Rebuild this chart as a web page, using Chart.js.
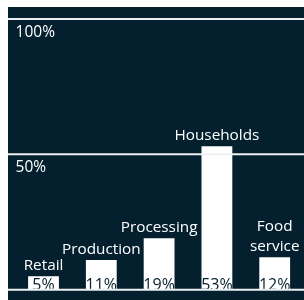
<!DOCTYPE html>
<html>
<head>
<meta charset="utf-8">
<script src="https://cdn.jsdelivr.net/npm/chart.js@4"></script>
<style>
  html, body { margin: 0; padding: 0; background: #fff; }
  #wrap { position: absolute; left: 8px; top: 7px; width: 296px; height: 293px; background: #04202f; }
</style>
</head>
<body>
<div id="wrap"><canvas id="chart"></canvas></div>
<script>
// data
const categories = [['Retail'], ['Production'], ['Processing'], ['Households'], ['Food', 'service']];
const shares = [5, 11, 19, 53, 12];
const yTicks = [0, 50, 100];

const BG = '#04202f';
const LINE = '#eef1f3';
const FONT = '"Open Sans", "Noto Sans", sans-serif';

// grid lines across the whole panel, value labels and category labels
const overlay = {
    id: 'overlay',
    afterDatasetsDraw(chart) {
        const { ctx } = chart;
        const y = chart.scales.y;
        const bars = chart.getDatasetMeta(0).data;
        ctx.save();
        ctx.textAlign = 'center';
        ctx.textBaseline = 'alphabetic';

        // percentages sit on the baseline, inside the bar
        ctx.font = '16px ' + FONT;
        ctx.fillStyle = BG;
        bars.forEach((bar, i) => ctx.fillText(shares[i] + '%', bar.x, bar.base + 0.5));

        ctx.strokeStyle = LINE;
        ctx.lineWidth = 2;
        yTicks.forEach(v => {
            const py = y.getPixelForValue(v);
            ctx.beginPath();
            ctx.moveTo(0, py);
            ctx.lineTo(chart.width, py);
            ctx.stroke();
        });

        // category names above each bar
        ctx.font = '15.3px ' + FONT;
        ctx.fillStyle = '#ffffff';
        bars.forEach((bar, i) => {
            const lines = categories[i];
            lines.forEach((t, k) => {
                ctx.fillText(t, bar.x, bar.y - 6 - (lines.length - 1 - k) * 20);
            });
        });
        ctx.restore();
    }
};

new Chart(document.getElementById('chart'), {
    type: 'bar',
    data: {
        labels: categories.map(c => c.join(' ')),
        datasets: [{
            data: shares,
            backgroundColor: '#ffffff',
            borderWidth: 0,
            barPercentage: 0.533,
            categoryPercentage: 1,
        }],
    },
    options: {
        responsive: true,
        maintainAspectRatio: false,
        animation: false,
        layout: { padding: { left: 4.6, right: 0.4, top: 12, bottom: 10 } },
        plugins: { legend: { display: false }, tooltip: { enabled: false } },
        scales: {
            x: { display: false, offset: true },
            y: {
                min: 0,
                max: 100,
                afterBuildTicks: scale => { scale.ticks = yTicks.map(v => ({ value: v })); },
                grid: { display: false, drawTicks: false },
                border: { display: false },
                ticks: {
                    mirror: true,
                    padding: 1,
                    labelOffset: 13.5,
                    color: '#ffffff',
                    font: { family: FONT, size: 15.5 },
                    callback: v => (v === 0 ? '' : v + '%'),
                },
            },
        },
    },
    plugins: [overlay],
});
</script>
</body>
</html>
